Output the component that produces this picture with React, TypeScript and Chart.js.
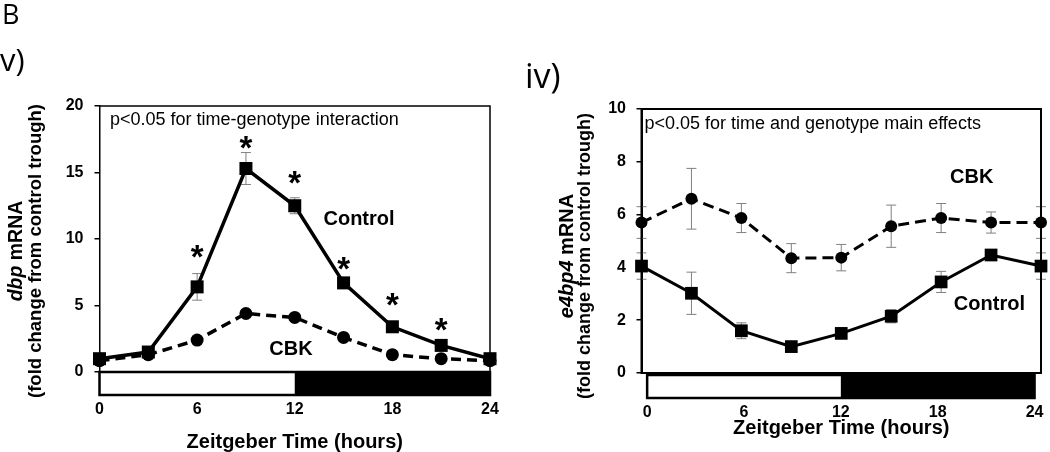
import React, { useEffect, useRef } from "react";
import { Chart, registerables } from "chart.js";

Chart.register(...registerables);

const FONT = "'Liberation Sans', Arial, Helvetica, sans-serif";
const HEAD_FONT = "'Open Sans', 'Noto Sans', sans-serif";

// ---------- shared ----------
const hours = [0, 3, 6, 9, 12, 15, 18, 21, 24];
const xTickValues = [0, 6, 12, 18, 24];
const lightPhase = [0, 12];
const darkPhase = [12, 24];

// ---------- panel v) dbp ----------
const dbpControl = [1.0, 1.5, 6.4, 15.3, 12.5, 6.7, 3.4, 2.0, 1.0];
const dbpControlErr = [0.3, 0.2, 1.0, 1.2, 0.6, 0.3, 0.35, 0.3, 0.3];
const dbpCBK = [0.85, 1.3, 2.4, 4.4, 4.1, 2.6, 1.3, 1.0, 0.85];
const dbpCBKErr = [0.1, 0.1, 0.2, 0.25, 0.2, 0.15, 0.1, 0.1, 0.1];
const dbpStarHours = [6, 9, 12, 15, 18, 21];
const dbpStarLevels = [9.2, 17.4, 14.7, 8.3, 5.6, 3.7];
const dbpYTicks = [0, 5, 10, 15, 20];
const dbpLabels = [
  { text: "Control", x: 15.95, y: 11.43 },
  { text: "CBK", x: 11.77, y: 1.7 },
];

// ---------- panel iv) e4bp4 ----------
const e4Control = [4.05, 3.02, 1.6, 1.0, 1.5, 2.15, 3.45, 4.47, 4.05];
const e4ControlErr = [0.5, 0.8, 0.3, 0.12, 0.12, 0.25, 0.4, 0.15, 0.5];
const e4CBK = [5.7, 6.6, 5.87, 4.35, 4.37, 5.56, 5.87, 5.7, 5.7];
const e4CBKErr = [0.6, 1.15, 0.55, 0.55, 0.5, 0.8, 0.55, 0.4, 0.6];
const e4YTicks = [0, 2, 4, 6, 8, 10];
const e4Labels = [
  { text: "CBK", x: 19.84, y: 7.39 },
  { text: "Control", x: 20.9, y: 2.6 },
];

type Label = { text: string; x: number; y: number };
type Part = { text: string; italic: boolean };

type PanelSpec = {
  yMax: number;
  yTicks: number[];
  control: number[];
  controlErr: number[];
  cbk: number[];
  cbkErr: number[];
  stars: { hours: number[]; levels: number[] } | null;
  labels: Label[];
  note: string;
  noteDx: number;
  noteDy: number;
  yTitle: Part[];
  yTitle2: string;
  yTitleX: number;
  yTitle2X: number;
  yTitleY: number;
  yTitleSize: number;
  yTitle2Size: number;
  frame: "topRight" | "box";
  frameWidth: number;
  areaLeft: number;
  areaRight: number;
  areaTop: number;
  areaBottom: number;
  tickPadX: number;
  tickPadY: number;
  titlePadBottom: number;
  ldScale: string;
  ldOffset: number;
  ldHeight: number;
  lineWidth: number;
  squareRadius: number;
  circleRadius: number;
  dash: number[];
  x2: { min: number; max: number } | null;
};

function drawRotated(ctx: CanvasRenderingContext2D, cx: number, cy: number, parts: Part[], size: number) {
  ctx.save();
  ctx.translate(cx, cy);
  ctx.rotate(-Math.PI / 2);
  ctx.textBaseline = "middle";
  ctx.textAlign = "left";
  ctx.fillStyle = "#000";
  const widths = parts.map((p) => {
    ctx.font = `${p.italic ? "italic " : ""}bold ${size}px ${FONT}`;
    return ctx.measureText(p.text).width;
  });
  const total = widths.reduce((a, b) => a + b, 0);
  let xx = -total / 2;
  parts.forEach((p, i) => {
    ctx.font = `${p.italic ? "italic " : ""}bold ${size}px ${FONT}`;
    ctx.fillText(p.text, xx, 0);
    xx += widths[i];
  });
  ctx.restore();
}

function makePlugin(spec: PanelSpec) {
  return {
    id: "panelExtras",
    beforeDatasetsDraw(chart: any) {
      const ctx: CanvasRenderingContext2D = chart.ctx;
      const x = chart.scales.x;
      const y = chart.scales.y;
      ctx.save();
      ctx.strokeStyle = "#808080";
      ctx.lineWidth = 1;
      chart.data.datasets.forEach((ds: any) => {
        const errs: number[] = ds.errors;
        ds.data.forEach((pt: any, i: number) => {
          const px = x.getPixelForValue(pt.x);
          const top = y.getPixelForValue(pt.y + errs[i]);
          const bot = y.getPixelForValue(pt.y - errs[i]);
          ctx.beginPath();
          ctx.moveTo(px, top);
          ctx.lineTo(px, bot);
          ctx.moveTo(px - 5, top);
          ctx.lineTo(px + 5, top);
          ctx.moveTo(px - 5, bot);
          ctx.lineTo(px + 5, bot);
          ctx.stroke();
        });
      });
      ctx.restore();
    },
    afterDraw(chart: any) {
      const ctx: CanvasRenderingContext2D = chart.ctx;
      const a = chart.chartArea;
      const x = chart.scales.x;
      const y = chart.scales.y;
      ctx.save();
      // frame
      ctx.strokeStyle = "#000";
      ctx.lineWidth = spec.frameWidth;
      ctx.beginPath();
      if (spec.frame === "box") {
        ctx.rect(a.left, a.top, a.right - a.left, a.bottom - a.top);
      } else {
        ctx.moveTo(a.left, a.top);
        ctx.lineTo(a.right, a.top);
        ctx.lineTo(a.right, a.bottom);
      }
      ctx.stroke();

      // light/dark bar
      const ld = chart.scales[spec.ldScale];
      const lx0 = ld.getPixelForValue(lightPhase[0]);
      const lx1 = ld.getPixelForValue(lightPhase[1]);
      const dx1 = ld.getPixelForValue(darkPhase[1]);
      const by = a.bottom + spec.ldOffset;
      ctx.fillStyle = "#fff";
      ctx.fillRect(lx0, by, lx1 - lx0, spec.ldHeight);
      ctx.fillStyle = "#000";
      ctx.fillRect(lx1, by, dx1 - lx1, spec.ldHeight);
      ctx.lineWidth = 2.5;
      ctx.strokeRect(lx0, by, dx1 - lx0, spec.ldHeight);

      // note
      ctx.fillStyle = "#000";
      ctx.font = `18px ${FONT}`;
      ctx.textAlign = "left";
      ctx.textBaseline = "alphabetic";
      ctx.fillText(spec.note, a.left + spec.noteDx, a.top + spec.noteDy);

      // series labels
      ctx.font = `bold 20px ${FONT}`;
      ctx.textAlign = "center";
      ctx.textBaseline = "middle";
      spec.labels.forEach((l) => {
        ctx.fillText(l.text, x.getPixelForValue(l.x), y.getPixelForValue(l.y));
      });

      // significance stars
      if (spec.stars) {
        ctx.font = `bold 33px ${FONT}`;
        ctx.textBaseline = "alphabetic";
        spec.stars.hours.forEach((h, i) => {
          ctx.fillText("*", x.getPixelForValue(h), y.getPixelForValue(spec.stars!.levels[i]) + 18);
        });
      }

      // y titles
      drawRotated(ctx, spec.yTitleX, spec.yTitleY, spec.yTitle, spec.yTitleSize);
      drawRotated(ctx, spec.yTitle2X, spec.yTitleY, [{ text: spec.yTitle2, italic: false }], spec.yTitle2Size);
      ctx.restore();
    },
  };
}

function Panel({ spec, left }: { spec: PanelSpec; left: number }) {
  const ref = useRef<HTMLCanvasElement | null>(null);
  useEffect(() => {
    if (!ref.current) return;
    const tickFont = { family: FONT, size: 16, weight: "bold" as const };
    const visibleX = (min: number, max: number): any => ({
      type: "linear",
      position: "bottom",
      min,
      max,
      display: true,
      grid: { display: false, drawTicks: false },
      border: { display: false },
      ticks: { padding: spec.tickPadX, color: "#000", font: tickFont },
      afterBuildTicks: (s: any) => {
        s.ticks = xTickValues.map((v) => ({ value: v }));
      },
      afterFit: (s: any) => {
        s.height = 452 - spec.areaBottom;
        s.paddingLeft = 0;
        s.paddingRight = 0;
      },
      title: {
        display: true,
        text: "Zeitgeber Time (hours)",
        color: "#000",
        font: { family: FONT, size: 20, weight: "bold", lineHeight: 1 },
        padding: { top: 0, bottom: spec.titlePadBottom },
      },
    });
    const scales: any = {
      y: {
        type: "linear",
        min: 0,
        max: spec.yMax,
        grid: {
          display: true,
          drawOnChartArea: false,
          drawTicks: true,
          tickLength: 5,
          color: "#000",
          lineWidth: 1.5,
        },
        border: { display: true, color: "#000", width: spec.frameWidth },
        ticks: { padding: spec.tickPadY, color: "#000", font: tickFont },
        afterBuildTicks: (s: any) => {
          s.ticks = spec.yTicks.map((v) => ({ value: v }));
        },
        afterFit: (s: any) => {
          s.width = spec.areaLeft;
          s.paddingTop = 0;
          s.paddingBottom = 0;
        },
      },
    };
    if (spec.x2) {
      scales.x = {
        type: "linear",
        position: "bottom",
        min: 0,
        max: 24,
        display: false,
        afterFit: (s: any) => {
          s.height = 0;
          s.paddingLeft = 0;
          s.paddingRight = 0;
        },
      };
      scales.x2 = visibleX(spec.x2.min, spec.x2.max);
    } else {
      scales.x = visibleX(0, 24);
    }
    const chart = new Chart(ref.current, {
      type: "line",
      data: {
        datasets: [
          {
            label: "CBK",
            data: hours.map((h, i) => ({ x: h, y: spec.cbk[i] })),
            errors: spec.cbkErr,
            xAxisID: "x",
            yAxisID: "y",
            borderColor: "#000",
            backgroundColor: "#000",
            borderWidth: spec.lineWidth,
            borderDash: spec.dash,
            pointStyle: "circle",
            pointRadius: spec.circleRadius,
            pointBorderWidth: 0,
            tension: 0,
            clip: false,
          } as any,
          {
            label: "Control",
            data: hours.map((h, i) => ({ x: h, y: spec.control[i] })),
            errors: spec.controlErr,
            xAxisID: "x",
            yAxisID: "y",
            borderColor: "#000",
            backgroundColor: "#000",
            borderWidth: spec.lineWidth,
            pointStyle: "rect",
            pointRadius: spec.squareRadius,
            pointBorderWidth: 0,
            tension: 0,
            clip: false,
          } as any,
        ],
      },
      options: {
        animation: false,
        responsive: false,
        devicePixelRatio: 1,
        layout: {
          padding: { left: 0, top: spec.areaTop, right: 525 - spec.areaRight, bottom: 0 },
        },
        plugins: {
          legend: { display: false },
          tooltip: { enabled: false },
          title: { display: false },
        },
        scales,
      },
      plugins: [makePlugin(spec)],
    } as any);
    return () => chart.destroy();
  }, [spec]);
  return (
    <canvas
      ref={ref}
      width={525}
      height={452}
      style={{ position: "absolute", left, top: 0, width: 525, height: 452 }}
    />
  );
}

const dbpSpec: PanelSpec = {
  yMax: 20,
  yTicks: dbpYTicks,
  control: dbpControl,
  controlErr: dbpControlErr,
  cbk: dbpCBK,
  cbkErr: dbpCBKErr,
  stars: { hours: dbpStarHours, levels: dbpStarLevels },
  labels: dbpLabels,
  note: "p<0.05 for time-genotype interaction",
  noteDx: 10.5,
  noteDy: 19,
  yTitle: [
    { text: "dbp", italic: true },
    { text: " mRNA", italic: false },
  ],
  yTitle2: "(fold change from control trough)",
  yTitleX: 17,
  yTitle2X: 36,
  yTitleY: 251,
  yTitleSize: 19.5,
  yTitle2Size: 18.5,
  frame: "topRight",
  frameWidth: 1.5,
  areaLeft: 99.5,
  areaRight: 490,
  areaTop: 106,
  areaBottom: 372,
  tickPadX: 28,
  tickPadY: 11,
  titlePadBottom: 0,
  ldScale: "x",
  ldOffset: 0,
  ldHeight: 23,
  lineWidth: 3.5,
  squareRadius: 9.2,
  circleRadius: 6.5,
  dash: [10, 6],
  x2: null,
};

const e4Spec: PanelSpec = {
  yMax: 10,
  yTicks: e4YTicks,
  control: e4Control,
  controlErr: e4ControlErr,
  cbk: e4CBK,
  cbkErr: e4CBKErr,
  stars: null,
  labels: e4Labels,
  note: "p<0.05 for time and genotype main effects",
  noteDx: 3,
  noteDy: 20,
  yTitle: [
    { text: "e4bp4", italic: true },
    { text: " mRNA", italic: false },
  ],
  yTitle2: "(fold change from control trough)",
  yTitleX: 42,
  yTitle2X: 60,
  yTitleY: 256,
  yTitleSize: 20,
  yTitle2Size: 18,
  frame: "box",
  frameWidth: 2,
  areaLeft: 116.5,
  areaRight: 518,
  areaTop: 109,
  areaBottom: 373,
  tickPadX: 30,
  tickPadY: 10.5,
  titlePadBottom: 14,
  ldScale: "x2",
  ldOffset: 2,
  ldHeight: 23,
  lineWidth: 3,
  squareRadius: 9,
  circleRadius: 6,
  dash: [11, 6],
  x2: { min: -0.35, max: 24.4 },
};

const headStyle: React.CSSProperties = {
  position: "absolute",
  fontFamily: HEAD_FONT,
  lineHeight: 1,
  color: "#000",
  whiteSpace: "nowrap",
};

export default function App() {
  return (
    <div style={{ position: "absolute", left: 0, top: 0, width: 1050, height: 452, background: "#fff", overflow: "hidden" }}>
      <Panel spec={dbpSpec} left={0} />
      <Panel spec={e4Spec} left={525} />
      <div style={{ ...headStyle, left: 2, top: 0, fontSize: 27 }}>B</div>
      <div style={{ ...headStyle, left: 0, top: 44, fontSize: 31 }}>v)</div>
      <div style={{ ...headStyle, left: 525, top: 58, fontSize: 34 }}>iv)</div>
    </div>
  );
}
